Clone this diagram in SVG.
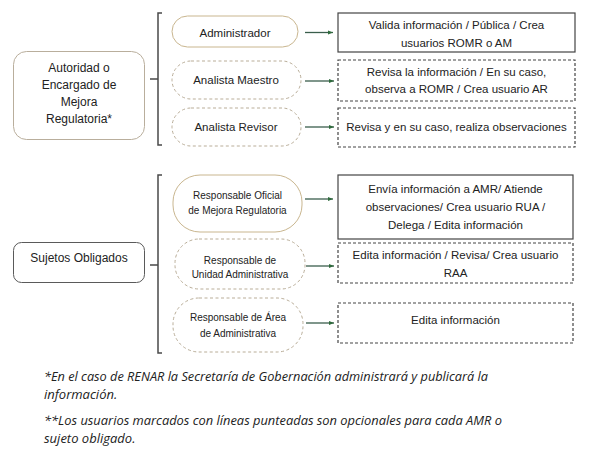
<svg xmlns="http://www.w3.org/2000/svg" width="589" height="458" viewBox="0 0 589 458">
<defs>
<marker id="ah" viewBox="0 0 10 10" refX="10" refY="5" markerWidth="5" markerHeight="5" orient="auto" markerUnits="userSpaceOnUse">
<path d="M0,1 L10,5 L0,9 z" fill="#2f6b3c"/>
</marker>
<style>
.t{font-family:"Liberation Sans",Arial,sans-serif;font-size:11.5px;fill:#222;text-anchor:middle}
.ts{font-family:"Liberation Sans",Arial,sans-serif;font-size:10px;fill:#222;text-anchor:middle}
.tl{font-family:"Liberation Sans",Arial,sans-serif;font-size:12px;fill:#222;text-anchor:middle}
.fn{font-family:"Open Sans","Liberation Sans",sans-serif;font-style:italic;font-size:13px;fill:#222}
.pill{fill:#fff;stroke:#c9b68f;stroke-width:1}
.pilld{fill:#fff;stroke:#b9ad98;stroke-width:1;stroke-dasharray:3,2.5}
.box{fill:#fff;stroke:#444;stroke-width:1.2}
.boxd{fill:#fff;stroke:#444;stroke-width:1.2;stroke-dasharray:3,2}
.br{fill:none;stroke:#4a4a4a;stroke-width:1.5}
.ar{fill:none;stroke:#3a5e4c;stroke-width:1.3;marker-end:url(#ah)}
</style>
</defs>
<rect width="589" height="458" fill="#fff"/>

<g id="autoridad">
<rect x="13.5" y="51.5" width="131" height="88" rx="13" fill="#fff" stroke="#b9ae9c" stroke-width="1"/>
<text class="tl" x="79" y="72">Autoridad o</text>
<text class="tl" x="79" y="89">Encargado de</text>
<text class="tl" x="79" y="106">Mejora</text>
<text class="tl" x="79" y="123">Regulatoria*</text>
</g>

<g id="administrador">
<rect class="pill" x="172" y="16" width="126" height="31" rx="15.5"/>
<text class="t" x="235" y="37">Administrador</text>
</g>
<g id="analista-maestro">
<rect class="pilld" x="172" y="61" width="129" height="38" rx="19"/>
<text class="t" x="236" y="84">Analista Maestro</text>
</g>
<g id="analista-revisor">
<rect class="pilld" x="172" y="108" width="129" height="38" rx="19"/>
<text class="t" x="236" y="131">Analista Revisor</text>
</g>

<g id="r-administrador">
<rect class="box" x="338" y="13" width="237" height="39"/>
<text class="t" x="456.5" y="29">Valida información / Pública / Crea</text>
<text class="t" x="456.5" y="47">usuarios ROMR o AM</text>
</g>
<g id="r-maestro">
<rect class="boxd" x="338" y="60" width="237" height="41"/>
<text class="t" x="456.5" y="76">Revisa la información / En su caso,</text>
<text class="t" x="456.5" y="93">observa a ROMR / Crea usuario AR</text>
</g>
<g id="r-revisor">
<rect class="boxd" x="338" y="108" width="237" height="39"/>
<text class="t" x="456.5" y="131">Revisa y en su caso, realiza observaciones</text>
</g>

<g id="sujetos">
<rect x="13.5" y="242.5" width="131" height="40" rx="8" fill="#fff" stroke="#5a5a5a" stroke-width="1"/>
<text class="tl" x="79" y="262">Sujetos Obligados</text>
</g>

<g id="responsable-oficial">
<rect class="pill" x="173" y="175" width="129" height="57" rx="27"/>
<text class="ts" x="237.5" y="199">Responsable Oficial</text>
<text class="ts" x="237.5" y="214">de Mejora Regulatoria</text>
</g>
<g id="responsable-unidad">
<rect class="pilld" x="175" y="239" width="130" height="50" rx="24"/>
<text class="ts" x="240" y="264">Responsable de</text>
<text class="ts" x="240" y="278">Unidad Administrativa</text>
</g>
<g id="responsable-area">
<rect class="pilld" x="173" y="298" width="130" height="54" rx="26"/>
<text class="ts" x="238" y="321">Responsable de Área</text>
<text class="ts" x="238" y="337">de Administrativa</text>
</g>

<g id="r-oficial">
<rect class="box" x="338" y="175" width="235" height="64"/>
<text class="t" x="455.5" y="193">Envía información a AMR/ Atiende</text>
<text class="t" x="455.5" y="211">observaciones/ Crea usuario RUA /</text>
<text class="t" x="455.5" y="229">Delega / Edita información</text>
</g>
<g id="r-unidad">
<rect class="boxd" x="338" y="243" width="235" height="40"/>
<text class="t" x="455.5" y="259">Edita información / Revisa/ Crea usuario</text>
<text class="t" x="455.5" y="277">RAA</text>
</g>
<g id="r-area">
<rect class="boxd" x="338" y="303" width="235" height="40"/>
<text class="t" x="455.5" y="324">Edita información</text>
</g>

<g id="connectors">
<path class="br" d="M162,13 H158 V145 H162 M150,79 H158"/>
<path class="br" d="M162,175 H158 V353 H162 M150,265 H158"/>
<line class="ar" x1="305" y1="32.5" x2="333" y2="32.5"/>
<line class="ar" x1="305" y1="81" x2="334" y2="81"/>
<line class="ar" x1="305" y1="127" x2="334" y2="127"/>
<line class="ar" x1="305" y1="199" x2="333" y2="199"/>
<line class="ar" x1="306" y1="266" x2="334" y2="266"/>
<line class="ar" x1="306" y1="323" x2="334" y2="323"/>
</g>

<g id="notes">
<text class="fn" x="44" y="381" textLength="444" lengthAdjust="spacingAndGlyphs">*En el caso de RENAR la Secretaría de Gobernación administrará y publicará la</text>
<text class="fn" x="44" y="399">información.</text>
<text class="fn" x="44" y="425" textLength="458" lengthAdjust="spacingAndGlyphs">**Los usuarios marcados con líneas punteadas son opcionales para cada AMR o</text>
<text class="fn" x="44" y="443">sujeto obligado.</text>
</g>
</svg>
